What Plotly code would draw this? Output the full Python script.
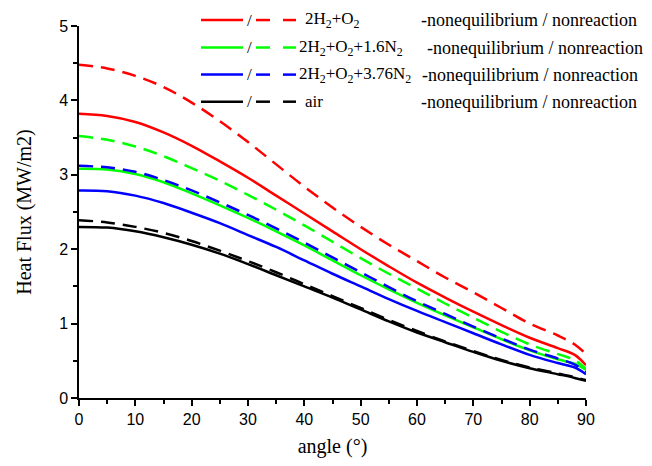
import plotly.graph_objects as go

angle = [0, 5, 10, 15, 20, 25, 30, 35, 40, 45, 50, 55, 60, 65, 70, 75, 80, 85, 88, 90]

h2o2_noneq = [3.82, 3.79, 3.71, 3.57, 3.39, 3.18, 2.96, 2.72, 2.48, 2.24, 2.00, 1.77, 1.55, 1.35, 1.16, 0.98, 0.81, 0.67, 0.58, 0.44]
h2o2_nonr = [4.48, 4.43, 4.33, 4.18, 3.97, 3.72, 3.44, 3.14, 2.84, 2.56, 2.30, 2.06, 1.84, 1.62, 1.42, 1.21, 1.00, 0.84, 0.72, 0.59]
n16_noneq = [3.08, 3.07, 3.01, 2.90, 2.75, 2.59, 2.42, 2.24, 2.05, 1.85, 1.65, 1.46, 1.28, 1.11, 0.95, 0.79, 0.64, 0.52, 0.46, 0.38]
n16_nonr = [3.52, 3.47, 3.38, 3.25, 3.09, 2.92, 2.73, 2.53, 2.32, 2.10, 1.88, 1.67, 1.47, 1.27, 1.08, 0.89, 0.72, 0.59, 0.51, 0.39]
n376_noneq = [2.79, 2.78, 2.72, 2.62, 2.49, 2.35, 2.19, 2.03, 1.85, 1.67, 1.50, 1.33, 1.17, 1.02, 0.87, 0.72, 0.58, 0.47, 0.41, 0.32]
n376_nonr = [3.12, 3.10, 3.04, 2.93, 2.79, 2.63, 2.46, 2.28, 2.09, 1.89, 1.69, 1.49, 1.30, 1.13, 0.96, 0.80, 0.65, 0.53, 0.45, 0.35]
air_noneq = [2.30, 2.29, 2.24, 2.16, 2.06, 1.94, 1.80, 1.65, 1.50, 1.35, 1.19, 1.03, 0.88, 0.75, 0.62, 0.50, 0.40, 0.32, 0.27, 0.23]
air_nonr = [2.39, 2.36, 2.30, 2.22, 2.11, 1.98, 1.84, 1.69, 1.53, 1.37, 1.21, 1.05, 0.90, 0.76, 0.63, 0.51, 0.41, 0.33, 0.28, 0.24]

labels = ["2H<sub>2</sub>+O<sub>2</sub>", "2H<sub>2</sub>+O<sub>2</sub>+1.6N<sub>2</sub>",
          "2H<sub>2</sub>+O<sub>2</sub>+3.76N<sub>2</sub>", "air"]
suffix = "-nonequilibrium / nonreaction"
colors = ["#ff0000", "#00ff00", "#0000ff", "#000000"]
solid_series = [h2o2_noneq, n16_noneq, n376_noneq, air_noneq]
dash_series = [h2o2_nonr, n16_nonr, n376_nonr, air_nonr]

SERIF = "Liberation Serif, Times New Roman, serif"
SANS = "Liberation Sans, Arial, sans-serif"

fig = go.Figure()
for c, s, d in zip(colors, solid_series, dash_series):
    fig.add_trace(go.Scatter(x=angle, y=s, mode="lines", line=dict(color=c, width=2.5, shape="spline", smoothing=1), showlegend=False))
    fig.add_trace(go.Scatter(x=angle, y=d, mode="lines", line=dict(color=c, width=2.5, dash="14px,8px", shape="spline", smoothing=1), showlegend=False))

# manual legend (paper coords)
W = 507.0
H = 375.0
def px(x):
    return (x - 79) / W
def py(y):
    return (401 - y) / H

rows_y = [20, 47.7, 75, 102.3]
label_x = [303, 297, 297, 303]
suffix_x = [419, 425, 420, 419]
for i, (c, lab) in enumerate(zip(colors, labels)):
    yy = py(rows_y[i])
    fig.add_shape(type="line", xref="paper", yref="paper", x0=px(201), x1=px(243), y0=yy, y1=yy,
                  line=dict(color=c, width=2.5))
    fig.add_shape(type="line", xref="paper", yref="paper", x0=px(256), x1=px(270), y0=yy, y1=yy,
                  line=dict(color=c, width=2.5))
    fig.add_shape(type="line", xref="paper", yref="paper", x0=px(283), x1=px(296), y0=yy, y1=yy,
                  line=dict(color=c, width=2.5))
    fig.add_annotation(xref="paper", yref="paper", x=px(249), y=yy, text="/", showarrow=False,
                       xanchor="center", yanchor="middle", font=dict(family=SERIF, size=17, color="black"))
    fig.add_annotation(xref="paper", yref="paper", x=px(label_x[i]), y=yy, text=lab, showarrow=False,
                       xanchor="left", yanchor="middle", font=dict(family=SERIF, size=17, color="black"))
    fig.add_annotation(xref="paper", yref="paper", x=px(suffix_x[i]), y=yy, text=suffix, showarrow=False,
                       xanchor="left", yanchor="middle", font=dict(family=SERIF, size=18, color="black"))

axis_common = dict(showline=True, linecolor="black", linewidth=1.5, ticks="outside", ticklen=6,
                   tickwidth=1.5, tickcolor="black", showgrid=False, zeroline=False, mirror=False,
                   tickfont=dict(family=SANS, size=16, color="black"))
fig.update_xaxes(range=[0, 90], dtick=10, tick0=0,
                 minor=dict(dtick=5, ticks="outside", ticklen=4, tickwidth=1.5, tickcolor="black"),
                 title=dict(text="angle (°)", font=dict(family=SERIF, size=20, color="black"), standoff=12),
                 **axis_common)
fig.update_yaxes(range=[0, 5], dtick=1, tick0=0,
                 minor=dict(dtick=0.5, ticks="outside", ticklen=4, tickwidth=1.5, tickcolor="black"),
                 title=dict(text="Heat Flux (MW/m2)", font=dict(family=SERIF, size=20, color="black"), standoff=22),
                 **axis_common)
fig.update_layout(width=652, height=466, margin=dict(l=79, r=66, t=26, b=65),
                  plot_bgcolor="white", paper_bgcolor="white")
fig.write_html("out.html")
